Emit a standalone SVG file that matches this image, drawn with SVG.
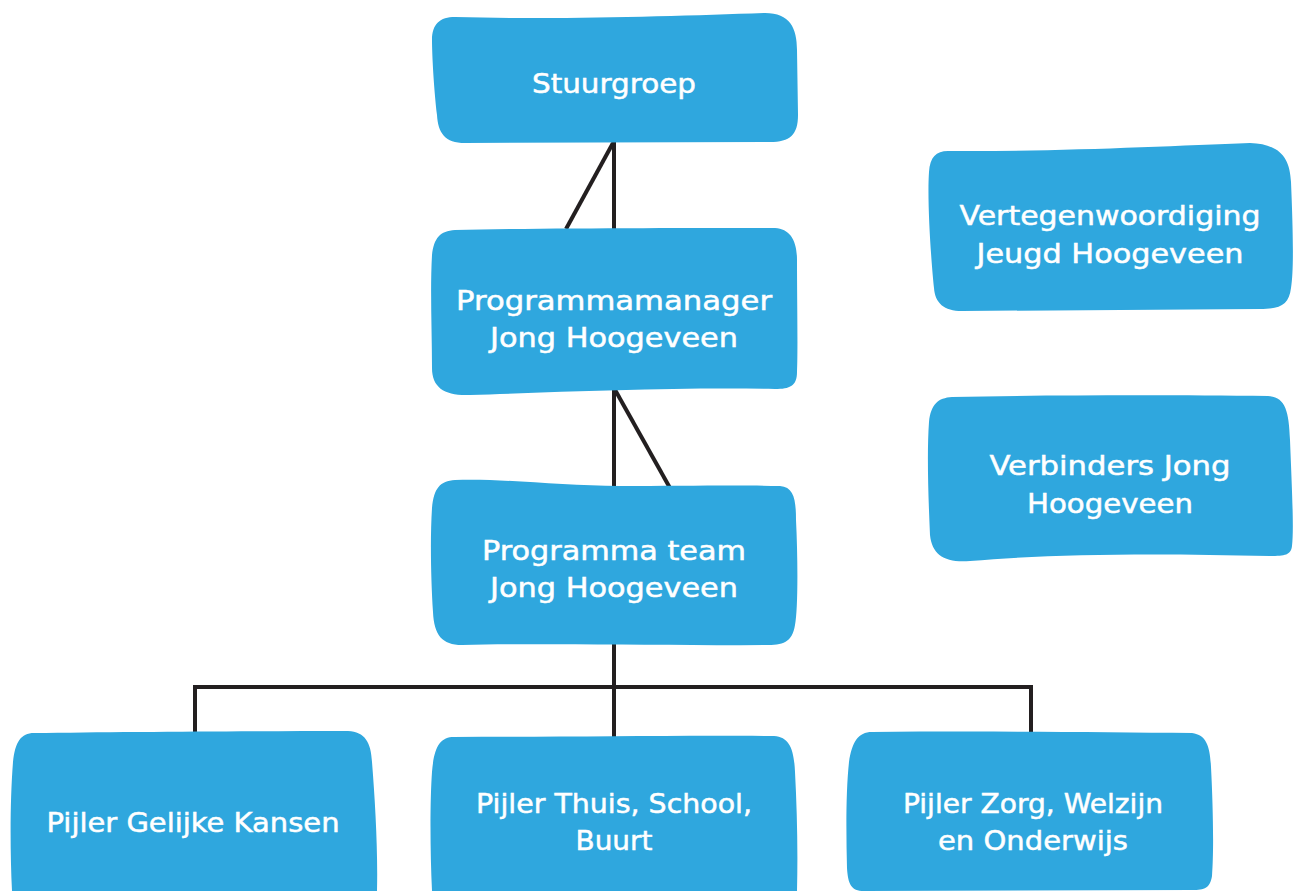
<svg xmlns="http://www.w3.org/2000/svg" width="1300" height="891" viewBox="0 0 1300 891">
<style>
.box{fill:#2fa7de;}
.t{fill:#ffffff;stroke:#ffffff;stroke-width:0.5;font-family:"DejaVu Sans","Open Sans",sans-serif;font-size:27px;font-weight:normal;text-anchor:middle;}
.c{stroke:#231f20;stroke-width:4;fill:none;stroke-linecap:butt;stroke-linejoin:miter;}
</style>
<rect width="1300" height="891" fill="#ffffff"/>
<g id="connectors">
<line class="c" x1="614" y1="140" x2="614" y2="230"/>
<line class="c" x1="613" y1="143" x2="566" y2="229"/>
<line class="c" x1="614" y1="388" x2="614" y2="486"/>
<line class="c" x1="614" y1="388" x2="670" y2="488"/>
<line class="c" x1="614" y1="643" x2="614" y2="738"/>
<polyline class="c" points="195,733 195,687 1031,687 1031,733"/>
</g>
<g id="stuurgroep">
<path class="box" d="M 455 17 C 560 20 680 16 765 13 C 790 13 797 28 797 50 L 798 115 C 798 135 790 142 770 142 L 465 143 C 445 143 438 133 437 115 C 434 90 432 55 432 40 C 432 24 440 17 455 17 Z"/>
<text class="t" x="614" y="93" textLength="164" lengthAdjust="spacingAndGlyphs">Stuurgroep</text>
</g>
<g id="programmamanager">
<path class="box" d="M 455 230 C 540 228 700 228 775 228 C 790 229 797 240 797 260 C 797 300 798 350 797 372 C 797 386 790 389 775 389 C 680 387 560 392 470 395 C 445 396 432 388 432 368 C 432 330 430 290 432 255 C 434 238 440 231 455 230 Z"/>
<text class="t" x="614" y="310" textLength="316" lengthAdjust="spacingAndGlyphs">Programmamanager</text>
<text class="t" x="614" y="347" textLength="248" lengthAdjust="spacingAndGlyphs">Jong Hoogeveen</text>
</g>
<g id="programmateam">
<path class="box" d="M 455 480 C 500 478 560 486 620 486 C 680 486 740 485 780 486 C 794 487 796 500 796 520 C 798 560 798 610 795 625 C 792 643 783 645 765 645 C 660 646 540 643 462 645 C 442 645 434 635 433 612 C 431 580 430 540 432 508 C 434 488 440 481 455 480 Z"/>
<text class="t" x="614" y="560" textLength="264" lengthAdjust="spacingAndGlyphs">Programma team</text>
<text class="t" x="614" y="597" textLength="248" lengthAdjust="spacingAndGlyphs">Jong Hoogeveen</text>
</g>
<g id="vertegenwoordiging">
<path class="box" d="M 948 151 C 1050 152 1170 146 1250 143 C 1280 144 1290 158 1291 182 C 1293 230 1294 270 1291 288 C 1289 305 1280 309 1260 309 L 962 311 C 944 311 935 303 934 288 C 931 260 927 200 929 172 C 930 157 936 151 948 151 Z"/>
<text class="t" x="1110" y="225" textLength="301" lengthAdjust="spacingAndGlyphs">Vertegenwoordiging</text>
<text class="t" x="1110" y="263" textLength="267" lengthAdjust="spacingAndGlyphs">Jeugd Hoogeveen</text>
</g>
<g id="verbinders">
<path class="box" d="M 952 397 C 1050 395 1170 395 1268 396 C 1285 397 1289 410 1290 440 C 1292 490 1294 530 1292 546 C 1291 555 1285 556 1270 556 C 1150 553 1050 554 970 561 C 945 563 932 555 930 535 C 928 490 927 450 929 422 C 931 404 938 398 952 397 Z"/>
<text class="t" x="1110" y="475" textLength="241" lengthAdjust="spacingAndGlyphs">Verbinders Jong</text>
<text class="t" x="1110" y="513" textLength="166" lengthAdjust="spacingAndGlyphs">Hoogeveen</text>
</g>
<g id="pijler-gelijke-kansen">
<path class="box" d="M 34 733 C 120 732 250 731 348 731 C 365 732 371 742 372 762 C 375 800 378 850 377 891 L 12 891 C 10 850 10 800 13 762 C 15 742 21 733 34 733 Z"/>
<text class="t" x="193" y="832" textLength="293" lengthAdjust="spacingAndGlyphs">Pijler Gelijke Kansen</text>
</g>
<g id="pijler-thuis-school-buurt">
<path class="box" d="M 454 737 C 560 737 680 735 774 736 C 790 737 794 750 795 772 C 797 810 798 850 797 891 L 432 891 C 430 850 430 800 432 772 C 434 747 440 737 454 737 Z"/>
<text class="t" x="614" y="813" textLength="276" lengthAdjust="spacingAndGlyphs">Pijler Thuis, School,</text>
<text class="t" x="614" y="850" textLength="77" lengthAdjust="spacingAndGlyphs">Buurt</text>
</g>
<g id="pijler-zorg-welzijn-onderwijs">
<path class="box" d="M 872 732 C 980 731 1100 732 1192 733 C 1207 735 1210 747 1211 767 C 1213 805 1214 850 1212 876 C 1210 888 1205 890 1192 890 L 864 891 C 851 891 848 884 847 868 C 846 830 846 790 849 762 C 852 742 858 732 872 732 Z"/>
<text class="t" x="1033" y="813" textLength="260" lengthAdjust="spacingAndGlyphs">Pijler Zorg, Welzijn</text>
<text class="t" x="1033" y="850" textLength="190" lengthAdjust="spacingAndGlyphs">en Onderwijs</text>
</g>
</svg>
